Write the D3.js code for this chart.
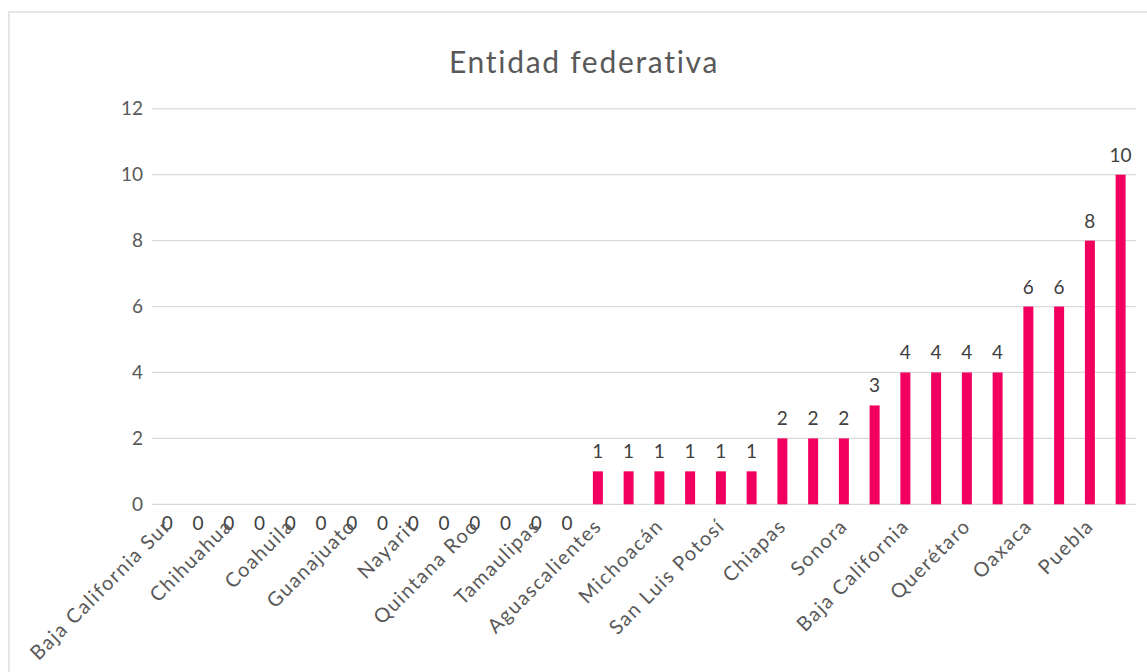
<!DOCTYPE html>
<html>
<head>
<meta charset="utf-8">
<script src="https://cdn.jsdelivr.net/npm/d3@7"></script>
<style>
  html, body { margin: 0; padding: 0; background: #fff; }
  svg { display: block; font-family: Lato, "Open Sans", sans-serif; }
</style>
</head>
<body>
<svg id="chart" width="1147" height="672"></svg>
<script>
const title = "Entidad federativa";
const categories = [
  "Baja California Sur", "Campeche", "Chihuahua", "Ciudad de México", "Coahuila", "Colima",
  "Guanajuato", "Guerrero", "Nayarit", "Nuevo León", "Quintana Roo", "Sinaloa",
  "Tamaulipas", "Zacatecas", "Aguascalientes", "Hidalgo", "Michoacán", "Morelos",
  "San Luis Potosí", "Tlaxcala", "Chiapas", "Durango", "Sonora", "Yucatán",
  "Baja California", "Jalisco", "Querétaro", "Tabasco", "Oaxaca", "Veracruz",
  "Puebla", "Estado de México"
];
const values = [
  0, 0, 0, 0, 0, 0, 0, 0, 0, 0, 0, 0, 0, 0,
  1, 1, 1, 1, 1, 1,
  2, 2, 2,
  3,
  4, 4, 4, 4,
  6, 6,
  8,
  10
];
const yTicks = [0, 2, 4, 6, 8, 10, 12];

const svg = d3.select("#chart");
const mLeft = 152, mRight = 1136, mTop = 108.8, mBottom = 504.3;

// chart border
svg.append("rect").attr("x", 9).attr("y", 12).attr("width", 1160).attr("height", 700)
  .attr("fill", "#fff").attr("stroke", "#d9d9d9").attr("stroke-width", 1.3);

const x = d3.scaleBand().domain(categories).range([mLeft, mRight]).paddingInner(0.675).paddingOuter(0.3375);
const y = d3.scaleLinear().domain([0, 12]).range([mBottom, mTop]);

// gridlines
svg.append("g").selectAll("line").data(yTicks).join("line")
  .attr("x1", mLeft).attr("x2", mRight)
  .attr("y1", d => y(d)).attr("y2", d => y(d))
  .attr("stroke", "#d9d9d9").attr("stroke-width", 1.3);

// y axis labels
const yAxis = d3.axisLeft(y).tickValues(yTicks).tickSize(0).tickPadding(0);
const gy = svg.append("g").attr("transform", `translate(${mLeft - 9},0)`).call(yAxis);
gy.select(".domain").remove();
gy.selectAll("text").attr("fill", "#595959").style("font-size", "19px")
  .style("font-family", "Lato, sans-serif");

// bars
svg.append("g").selectAll("rect").data(values).join("rect")
  .attr("x", (d, i) => x(categories[i]))
  .attr("width", x.bandwidth())
  .attr("y", d => y(d))
  .attr("height", d => y(0) - y(d))
  .attr("fill", "#F2005F");

// data labels
svg.append("g").selectAll("text").data(values).join("text")
  .attr("x", (d, i) => x(categories[i]) + x.bandwidth() / 2)
  .attr("y", d => d === 0 ? y(0) + 26 : y(d) - 13)
  .attr("text-anchor", "middle")
  .attr("fill", "#404040")
  .style("font-size", "19px")
  .text(d => d);

// category labels (every other)
const xAxis = d3.axisBottom(x).tickSize(0).tickFormat((d, i) => i % 2 === 0 ? d : "");
const gx = svg.append("g").attr("transform", `translate(0,${mBottom})`).call(xAxis);
gx.select(".domain").remove();
gx.selectAll("text")
  .attr("fill", "#595959")
  .style("font-size", "20px")
  .style("letter-spacing", "1.5px")
  .style("font-family", "Lato, sans-serif")
  .attr("text-anchor", "end")
  .attr("dy", 0)
  .attr("y", 0)
  .attr("transform", "translate(5,23) rotate(-45)");

// title
svg.append("text").attr("x", 584).attr("y", 73).attr("text-anchor", "middle")
  .attr("fill", "#595959").style("font-size", "30px").style("letter-spacing", "1.7px").text(title);
</script>
</body>
</html>
